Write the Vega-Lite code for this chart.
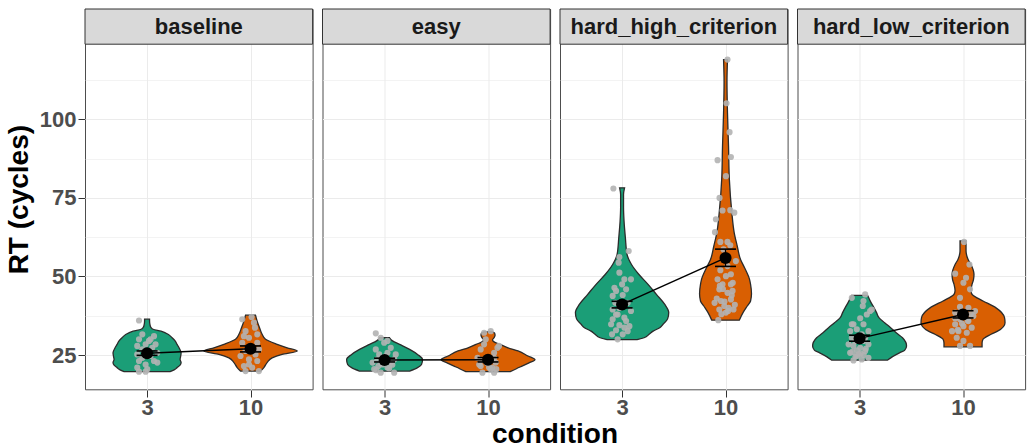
{
"$schema": "https://vega.github.io/schema/vega-lite/v6.json",
"background": "white",
"padding": {"left": 5, "top": 8, "right": 1, "bottom": 0},
"bounds": "flush",
"data": {"values": [
{"kind":"summary","group":"baseline","condition":"3","pos":1,"mean":25.6,"lo":24.9,"hi":26.3},
{"kind":"summary","group":"baseline","condition":"10","pos":2,"mean":27.0,"lo":26.0,"hi":27.9},
{"kind":"summary","group":"easy","condition":"3","pos":1,"mean":23.4,"lo":22.8,"hi":24.0},
{"kind":"summary","group":"easy","condition":"10","pos":2,"mean":23.5,"lo":22.8,"hi":24.2},
{"kind":"summary","group":"hard_high_criterion","condition":"3","pos":1,"mean":41.1,"lo":40.0,"hi":42.1},
{"kind":"summary","group":"hard_high_criterion","condition":"10","pos":2,"mean":55.9,"lo":53.2,"hi":58.7},
{"kind":"summary","group":"hard_low_criterion","condition":"3","pos":1,"mean":30.3,"lo":29.4,"hi":31.3},
{"kind":"summary","group":"hard_low_criterion","condition":"10","pos":2,"mean":37.9,"lo":36.8,"hi":39.1},

{"kind":"violin","group":"baseline","condition":"3","rt":36.4,"left":0.976,"right":1.024},
{"kind":"violin","group":"baseline","condition":"3","rt":35.8,"left":0.976,"right":1.024},
{"kind":"violin","group":"baseline","condition":"3","rt":34.5,"left":0.971,"right":1.029},
{"kind":"violin","group":"baseline","condition":"3","rt":33.7,"left":0.961,"right":1.039},
{"kind":"violin","group":"baseline","condition":"3","rt":33.2,"left":0.942,"right":1.058},
{"kind":"violin","group":"baseline","condition":"3","rt":32.6,"left":0.865,"right":1.135},
{"kind":"violin","group":"baseline","condition":"3","rt":31.6,"left":0.797,"right":1.203},
{"kind":"violin","group":"baseline","condition":"3","rt":30.5,"left":0.758,"right":1.242},
{"kind":"violin","group":"baseline","condition":"3","rt":29.5,"left":0.729,"right":1.271},
{"kind":"violin","group":"baseline","condition":"3","rt":28.4,"left":0.710,"right":1.290},
{"kind":"violin","group":"baseline","condition":"3","rt":27.3,"left":0.691,"right":1.309},
{"kind":"violin","group":"baseline","condition":"3","rt":25.7,"left":0.671,"right":1.329},
{"kind":"violin","group":"baseline","condition":"3","rt":24.5,"left":0.676,"right":1.324},
{"kind":"violin","group":"baseline","condition":"3","rt":23.6,"left":0.681,"right":1.319},
{"kind":"violin","group":"baseline","condition":"3","rt":22.6,"left":0.671,"right":1.329},
{"kind":"violin","group":"baseline","condition":"3","rt":21.8,"left":0.681,"right":1.319},
{"kind":"violin","group":"baseline","condition":"3","rt":21.0,"left":0.710,"right":1.290},
{"kind":"violin","group":"baseline","condition":"3","rt":20.3,"left":0.739,"right":1.261},
{"kind":"violin","group":"baseline","condition":"3","rt":19.7,"left":0.778,"right":1.222},

{"kind":"violin","group":"baseline","condition":"10","rt":37.7,"left":1.952,"right":2.048},
{"kind":"violin","group":"baseline","condition":"10","rt":35.8,"left":1.936,"right":2.064},
{"kind":"violin","group":"baseline","condition":"10","rt":33.7,"left":1.913,"right":2.087},
{"kind":"violin","group":"baseline","condition":"10","rt":31.6,"left":1.888,"right":2.112},
{"kind":"violin","group":"baseline","condition":"10","rt":30.0,"left":1.855,"right":2.145},
{"kind":"violin","group":"baseline","condition":"10","rt":28.4,"left":1.743,"right":2.257},
{"kind":"violin","group":"baseline","condition":"10","rt":27.3,"left":1.646,"right":2.354},
{"kind":"violin","group":"baseline","condition":"10","rt":26.3,"left":1.549,"right":2.451},
{"kind":"violin","group":"baseline","condition":"10","rt":25.2,"left":1.695,"right":2.305},
{"kind":"violin","group":"baseline","condition":"10","rt":24.1,"left":1.791,"right":2.209},
{"kind":"violin","group":"baseline","condition":"10","rt":22.6,"left":1.840,"right":2.160},
{"kind":"violin","group":"baseline","condition":"10","rt":21.0,"left":1.871,"right":2.129},
{"kind":"violin","group":"baseline","condition":"10","rt":19.9,"left":1.903,"right":2.097},

{"kind":"violin","group":"easy","condition":"3","rt":30.5,"left":0.952,"right":1.048},
{"kind":"violin","group":"easy","condition":"3","rt":29.5,"left":0.923,"right":1.077},
{"kind":"violin","group":"easy","condition":"3","rt":28.4,"left":0.855,"right":1.145},
{"kind":"violin","group":"easy","condition":"3","rt":26.8,"left":0.758,"right":1.242},
{"kind":"violin","group":"easy","condition":"3","rt":25.2,"left":0.681,"right":1.319},
{"kind":"violin","group":"easy","condition":"3","rt":23.6,"left":0.633,"right":1.367},
{"kind":"violin","group":"easy","condition":"3","rt":22.0,"left":0.643,"right":1.357},
{"kind":"violin","group":"easy","condition":"3","rt":21.0,"left":0.681,"right":1.319},
{"kind":"violin","group":"easy","condition":"3","rt":19.9,"left":0.758,"right":1.242},

{"kind":"violin","group":"easy","condition":"10","rt":32.4,"left":1.961,"right":2.039},
{"kind":"violin","group":"easy","condition":"10","rt":32.0,"left":1.937,"right":2.063},
{"kind":"violin","group":"easy","condition":"10","rt":31.3,"left":1.932,"right":2.068},
{"kind":"violin","group":"easy","condition":"10","rt":30.5,"left":1.942,"right":2.058},
{"kind":"violin","group":"easy","condition":"10","rt":29.8,"left":1.957,"right":2.043},
{"kind":"violin","group":"easy","condition":"10","rt":29.2,"left":1.942,"right":2.058},
{"kind":"violin","group":"easy","condition":"10","rt":28.4,"left":1.884,"right":2.116},
{"kind":"violin","group":"easy","condition":"10","rt":27.3,"left":1.807,"right":2.193},
{"kind":"violin","group":"easy","condition":"10","rt":26.3,"left":1.710,"right":2.290},
{"kind":"violin","group":"easy","condition":"10","rt":24.7,"left":1.614,"right":2.386},
{"kind":"violin","group":"easy","condition":"10","rt":23.5,"left":1.546,"right":2.454},
{"kind":"violin","group":"easy","condition":"10","rt":22.5,"left":1.604,"right":2.396},
{"kind":"violin","group":"easy","condition":"10","rt":21.2,"left":1.691,"right":2.309},
{"kind":"violin","group":"easy","condition":"10","rt":19.7,"left":1.787,"right":2.213},

{"kind":"violin","group":"hard_high_criterion","condition":"3","rt":78.2,"left":0.976,"right":1.024},
{"kind":"violin","group":"hard_high_criterion","condition":"3","rt":76.1,"left":0.986,"right":1.014},
{"kind":"violin","group":"hard_high_criterion","condition":"3","rt":72.0,"left":0.986,"right":1.014},
{"kind":"violin","group":"hard_high_criterion","condition":"3","rt":67.6,"left":0.981,"right":1.019},
{"kind":"violin","group":"hard_high_criterion","condition":"3","rt":62.3,"left":0.968,"right":1.032},
{"kind":"violin","group":"hard_high_criterion","condition":"3","rt":57.0,"left":0.952,"right":1.048},
{"kind":"violin","group":"hard_high_criterion","condition":"3","rt":53.8,"left":0.909,"right":1.091},
{"kind":"violin","group":"hard_high_criterion","condition":"3","rt":50.7,"left":0.839,"right":1.161},
{"kind":"violin","group":"hard_high_criterion","condition":"3","rt":47.5,"left":0.749,"right":1.251},
{"kind":"violin","group":"hard_high_criterion","condition":"3","rt":44.3,"left":0.668,"right":1.332},
{"kind":"violin","group":"hard_high_criterion","condition":"3","rt":41.1,"left":0.587,"right":1.413},
{"kind":"violin","group":"hard_high_criterion","condition":"3","rt":38.5,"left":0.549,"right":1.451},
{"kind":"violin","group":"hard_high_criterion","condition":"3","rt":36.5,"left":0.560,"right":1.440},
{"kind":"violin","group":"hard_high_criterion","condition":"3","rt":34.8,"left":0.604,"right":1.396},
{"kind":"violin","group":"hard_high_criterion","condition":"3","rt":33.7,"left":0.636,"right":1.364},
{"kind":"violin","group":"hard_high_criterion","condition":"3","rt":32.6,"left":0.700,"right":1.300},
{"kind":"violin","group":"hard_high_criterion","condition":"3","rt":31.6,"left":0.739,"right":1.261},
{"kind":"violin","group":"hard_high_criterion","condition":"3","rt":30.5,"left":0.787,"right":1.213},
{"kind":"violin","group":"hard_high_criterion","condition":"3","rt":29.9,"left":0.855,"right":1.145},

{"kind":"violin","group":"hard_high_criterion","condition":"10","rt":119.0,"left":1.981,"right":2.019},
{"kind":"violin","group":"hard_high_criterion","condition":"10","rt":112.0,"left":1.986,"right":2.014},
{"kind":"violin","group":"hard_high_criterion","condition":"10","rt":102.0,"left":1.981,"right":2.019},
{"kind":"violin","group":"hard_high_criterion","condition":"10","rt":91.5,"left":1.971,"right":2.029},
{"kind":"violin","group":"hard_high_criterion","condition":"10","rt":80.9,"left":1.963,"right":2.037},
{"kind":"violin","group":"hard_high_criterion","condition":"10","rt":70.3,"left":1.939,"right":2.061},
{"kind":"violin","group":"hard_high_criterion","condition":"10","rt":63.9,"left":1.916,"right":2.084},
{"kind":"violin","group":"hard_high_criterion","condition":"10","rt":59.7,"left":1.887,"right":2.113},
{"kind":"violin","group":"hard_high_criterion","condition":"10","rt":55.4,"left":1.855,"right":2.145},
{"kind":"violin","group":"hard_high_criterion","condition":"10","rt":52.8,"left":1.816,"right":2.184},
{"kind":"violin","group":"hard_high_criterion","condition":"10","rt":49.1,"left":1.768,"right":2.232},
{"kind":"violin","group":"hard_high_criterion","condition":"10","rt":47.5,"left":1.758,"right":2.242},
{"kind":"violin","group":"hard_high_criterion","condition":"10","rt":44.5,"left":1.749,"right":2.251},
{"kind":"violin","group":"hard_high_criterion","condition":"10","rt":42.2,"left":1.758,"right":2.242},
{"kind":"violin","group":"hard_high_criterion","condition":"10","rt":40.6,"left":1.790,"right":2.210},
{"kind":"violin","group":"hard_high_criterion","condition":"10","rt":38.5,"left":1.831,"right":2.169},
{"kind":"violin","group":"hard_high_criterion","condition":"10","rt":36.1,"left":1.867,"right":2.133},

{"kind":"violin","group":"hard_low_criterion","condition":"3","rt":44.0,"left":0.923,"right":1.077},
{"kind":"violin","group":"hard_low_criterion","condition":"3","rt":42.0,"left":0.894,"right":1.106},
{"kind":"violin","group":"hard_low_criterion","condition":"3","rt":40.0,"left":0.860,"right":1.140},
{"kind":"violin","group":"hard_low_criterion","condition":"3","rt":38.5,"left":0.836,"right":1.164},
{"kind":"violin","group":"hard_low_criterion","condition":"3","rt":36.9,"left":0.813,"right":1.187},
{"kind":"violin","group":"hard_low_criterion","condition":"3","rt":35.3,"left":0.758,"right":1.242},
{"kind":"violin","group":"hard_low_criterion","condition":"3","rt":33.7,"left":0.700,"right":1.300},
{"kind":"violin","group":"hard_low_criterion","condition":"3","rt":32.0,"left":0.643,"right":1.357},
{"kind":"violin","group":"hard_low_criterion","condition":"3","rt":30.5,"left":0.585,"right":1.415},
{"kind":"violin","group":"hard_low_criterion","condition":"3","rt":27.9,"left":0.546,"right":1.454},
{"kind":"violin","group":"hard_low_criterion","condition":"3","rt":26.5,"left":0.565,"right":1.435},
{"kind":"violin","group":"hard_low_criterion","condition":"3","rt":25.7,"left":0.614,"right":1.386},
{"kind":"violin","group":"hard_low_criterion","condition":"3","rt":24.5,"left":0.681,"right":1.319},
{"kind":"violin","group":"hard_low_criterion","condition":"3","rt":23.4,"left":0.729,"right":1.271},

{"kind":"violin","group":"hard_low_criterion","condition":"10","rt":61.3,"left":1.971,"right":2.029},
{"kind":"violin","group":"hard_low_criterion","condition":"10","rt":58.1,"left":1.971,"right":2.029},
{"kind":"violin","group":"hard_low_criterion","condition":"10","rt":55.5,"left":1.952,"right":2.048},
{"kind":"violin","group":"hard_low_criterion","condition":"10","rt":53.8,"left":1.923,"right":2.077},
{"kind":"violin","group":"hard_low_criterion","condition":"10","rt":50.7,"left":1.894,"right":2.106},
{"kind":"violin","group":"hard_low_criterion","condition":"10","rt":49.0,"left":1.899,"right":2.101},
{"kind":"violin","group":"hard_low_criterion","condition":"10","rt":47.5,"left":1.913,"right":2.087},
{"kind":"violin","group":"hard_low_criterion","condition":"10","rt":45.5,"left":1.923,"right":2.077},
{"kind":"violin","group":"hard_low_criterion","condition":"10","rt":44.3,"left":1.913,"right":2.087},
{"kind":"violin","group":"hard_low_criterion","condition":"10","rt":43.2,"left":1.865,"right":2.135},
{"kind":"violin","group":"hard_low_criterion","condition":"10","rt":42.2,"left":1.807,"right":2.193},
{"kind":"violin","group":"hard_low_criterion","condition":"10","rt":40.0,"left":1.681,"right":2.319},
{"kind":"violin","group":"hard_low_criterion","condition":"10","rt":36.9,"left":1.599,"right":2.401},
{"kind":"violin","group":"hard_low_criterion","condition":"10","rt":35.3,"left":1.594,"right":2.406},
{"kind":"violin","group":"hard_low_criterion","condition":"10","rt":32.6,"left":1.666,"right":2.334},
{"kind":"violin","group":"hard_low_criterion","condition":"10","rt":31.6,"left":1.729,"right":2.271},
{"kind":"violin","group":"hard_low_criterion","condition":"10","rt":30.0,"left":1.807,"right":2.193},
{"kind":"violin","group":"hard_low_criterion","condition":"10","rt":28.8,"left":1.816,"right":2.184},
{"kind":"violin","group":"hard_low_criterion","condition":"10","rt":27.6,"left":1.816,"right":2.184},

{"kind":"point","group":"baseline","condition":"3","x":0.922,"rt":36.0},
{"kind":"point","group":"baseline","condition":"3","x":0.954,"rt":31.6},
{"kind":"point","group":"baseline","condition":"3","x":1.067,"rt":31.0},
{"kind":"point","group":"baseline","condition":"3","x":0.922,"rt":30.0},
{"kind":"point","group":"baseline","condition":"3","x":1.018,"rt":29.5},
{"kind":"point","group":"baseline","condition":"3","x":1.082,"rt":28.4},
{"kind":"point","group":"baseline","condition":"3","x":0.905,"rt":27.9},
{"kind":"point","group":"baseline","condition":"3","x":0.986,"rt":28.4},
{"kind":"point","group":"baseline","condition":"3","x":1.099,"rt":25.7},
{"kind":"point","group":"baseline","condition":"3","x":0.905,"rt":25.2},
{"kind":"point","group":"baseline","condition":"3","x":1.034,"rt":24.7},
{"kind":"point","group":"baseline","condition":"3","x":0.922,"rt":23.1},
{"kind":"point","group":"baseline","condition":"3","x":1.067,"rt":23.1},
{"kind":"point","group":"baseline","condition":"3","x":0.986,"rt":22.0},
{"kind":"point","group":"baseline","condition":"3","x":0.905,"rt":21.0},
{"kind":"point","group":"baseline","condition":"3","x":1.002,"rt":20.5},
{"kind":"point","group":"baseline","condition":"3","x":0.922,"rt":19.7},
{"kind":"point","group":"baseline","condition":"3","x":0.986,"rt":19.7},
{"kind":"point","group":"baseline","condition":"3","x":0.954,"rt":26.8},
{"kind":"point","group":"baseline","condition":"3","x":1.050,"rt":27.3},
{"kind":"point","group":"baseline","condition":"3","x":1.099,"rt":22.6},
{"kind":"point","group":"baseline","condition":"3","x":0.954,"rt":24.1},
{"kind":"point","group":"baseline","condition":"3","x":1.034,"rt":30.0},

{"kind":"point","group":"baseline","condition":"10","x":1.920,"rt":36.4},
{"kind":"point","group":"baseline","condition":"10","x":2.010,"rt":37.1},
{"kind":"point","group":"baseline","condition":"10","x":2.043,"rt":33.7},
{"kind":"point","group":"baseline","condition":"10","x":1.952,"rt":32.6},
{"kind":"point","group":"baseline","condition":"10","x":2.065,"rt":31.6},
{"kind":"point","group":"baseline","condition":"10","x":1.985,"rt":30.5},
{"kind":"point","group":"baseline","condition":"10","x":1.920,"rt":28.9},
{"kind":"point","group":"baseline","condition":"10","x":2.065,"rt":28.9},
{"kind":"point","group":"baseline","condition":"10","x":1.952,"rt":26.3},
{"kind":"point","group":"baseline","condition":"10","x":2.048,"rt":25.2},
{"kind":"point","group":"baseline","condition":"10","x":1.903,"rt":24.7},
{"kind":"point","group":"baseline","condition":"10","x":1.985,"rt":23.6},
{"kind":"point","group":"baseline","condition":"10","x":2.065,"rt":23.1},
{"kind":"point","group":"baseline","condition":"10","x":1.936,"rt":21.5},
{"kind":"point","group":"baseline","condition":"10","x":2.016,"rt":21.0},
{"kind":"point","group":"baseline","condition":"10","x":2.081,"rt":19.9},
{"kind":"point","group":"baseline","condition":"10","x":1.952,"rt":19.9},
{"kind":"point","group":"baseline","condition":"10","x":2.016,"rt":27.3},
{"kind":"point","group":"baseline","condition":"10","x":2.081,"rt":26.8},
{"kind":"point","group":"baseline","condition":"10","x":1.936,"rt":31.0},
{"kind":"point","group":"baseline","condition":"10","x":2.033,"rt":35.3},
{"kind":"point","group":"baseline","condition":"10","x":1.985,"rt":22.0},

{"kind":"point","group":"easy","condition":"3","x":0.915,"rt":31.9},
{"kind":"point","group":"easy","condition":"3","x":0.963,"rt":30.5},
{"kind":"point","group":"easy","condition":"3","x":0.996,"rt":28.9},
{"kind":"point","group":"easy","condition":"3","x":1.060,"rt":27.3},
{"kind":"point","group":"easy","condition":"3","x":0.915,"rt":26.8},
{"kind":"point","group":"easy","condition":"3","x":1.028,"rt":25.7},
{"kind":"point","group":"easy","condition":"3","x":1.093,"rt":23.6},
{"kind":"point","group":"easy","condition":"3","x":0.931,"rt":23.6},
{"kind":"point","group":"easy","condition":"3","x":0.900,"rt":20.5},
{"kind":"point","group":"easy","condition":"3","x":1.028,"rt":21.0},
{"kind":"point","group":"easy","condition":"3","x":0.963,"rt":19.4},
{"kind":"point","group":"easy","condition":"3","x":1.093,"rt":19.4},
{"kind":"point","group":"easy","condition":"3","x":0.884,"rt":22.6},
{"kind":"point","group":"easy","condition":"3","x":1.060,"rt":22.6},
{"kind":"point","group":"easy","condition":"3","x":0.980,"rt":22.0},
{"kind":"point","group":"easy","condition":"3","x":1.012,"rt":24.7},
{"kind":"point","group":"easy","condition":"3","x":0.948,"rt":25.2},
{"kind":"point","group":"easy","condition":"3","x":1.108,"rt":25.2},
{"kind":"point","group":"easy","condition":"3","x":1.028,"rt":29.5},
{"kind":"point","group":"easy","condition":"3","x":0.940,"rt":21.5},
{"kind":"point","group":"easy","condition":"3","x":1.045,"rt":20.8},
{"kind":"point","group":"easy","condition":"3","x":0.970,"rt":22.3},
{"kind":"point","group":"easy","condition":"3","x":1.075,"rt":21.9},
{"kind":"point","group":"easy","condition":"3","x":0.920,"rt":20.2},

{"kind":"point","group":"easy","condition":"10","x":1.962,"rt":32.1},
{"kind":"point","group":"easy","condition":"10","x":2.026,"rt":32.6},
{"kind":"point","group":"easy","condition":"10","x":1.978,"rt":30.0},
{"kind":"point","group":"easy","condition":"10","x":2.091,"rt":27.3},
{"kind":"point","group":"easy","condition":"10","x":1.929,"rt":26.8},
{"kind":"point","group":"easy","condition":"10","x":2.059,"rt":25.7},
{"kind":"point","group":"easy","condition":"10","x":1.898,"rt":24.1},
{"kind":"point","group":"easy","condition":"10","x":2.074,"rt":22.6},
{"kind":"point","group":"easy","condition":"10","x":1.929,"rt":21.5},
{"kind":"point","group":"easy","condition":"10","x":2.010,"rt":21.0},
{"kind":"point","group":"easy","condition":"10","x":1.946,"rt":19.4},
{"kind":"point","group":"easy","condition":"10","x":2.059,"rt":19.4},
{"kind":"point","group":"easy","condition":"10","x":1.978,"rt":23.1},
{"kind":"point","group":"easy","condition":"10","x":2.059,"rt":24.1},
{"kind":"point","group":"easy","condition":"10","x":2.106,"rt":27.9},
{"kind":"point","group":"easy","condition":"10","x":1.962,"rt":28.4},
{"kind":"point","group":"easy","condition":"10","x":2.026,"rt":20.5},
{"kind":"point","group":"easy","condition":"10","x":1.915,"rt":22.0},
{"kind":"point","group":"easy","condition":"10","x":2.040,"rt":21.0},
{"kind":"point","group":"easy","condition":"10","x":1.990,"rt":22.5},
{"kind":"point","group":"easy","condition":"10","x":2.080,"rt":20.5},
{"kind":"point","group":"easy","condition":"10","x":1.940,"rt":23.5},

{"kind":"point","group":"hard_high_criterion","condition":"3","x":0.916,"rt":78.0},
{"kind":"point","group":"hard_high_criterion","condition":"3","x":1.064,"rt":58.1},
{"kind":"point","group":"hard_high_criterion","condition":"3","x":0.974,"rt":56.2},
{"kind":"point","group":"hard_high_criterion","condition":"3","x":0.967,"rt":54.4},
{"kind":"point","group":"hard_high_criterion","condition":"3","x":0.974,"rt":51.2},
{"kind":"point","group":"hard_high_criterion","condition":"3","x":1.022,"rt":49.1},
{"kind":"point","group":"hard_high_criterion","condition":"3","x":1.086,"rt":49.1},
{"kind":"point","group":"hard_high_criterion","condition":"3","x":1.000,"rt":47.5},
{"kind":"point","group":"hard_high_criterion","condition":"3","x":0.942,"rt":45.4},
{"kind":"point","group":"hard_high_criterion","condition":"3","x":1.039,"rt":45.9},
{"kind":"point","group":"hard_high_criterion","condition":"3","x":0.909,"rt":43.8},
{"kind":"point","group":"hard_high_criterion","condition":"3","x":1.006,"rt":44.1},
{"kind":"point","group":"hard_high_criterion","condition":"3","x":0.935,"rt":41.6},
{"kind":"point","group":"hard_high_criterion","condition":"3","x":1.054,"rt":41.6},
{"kind":"point","group":"hard_high_criterion","condition":"3","x":1.086,"rt":39.0},
{"kind":"point","group":"hard_high_criterion","condition":"3","x":0.909,"rt":39.5},
{"kind":"point","group":"hard_high_criterion","condition":"3","x":0.957,"rt":37.9},
{"kind":"point","group":"hard_high_criterion","condition":"3","x":1.022,"rt":36.9},
{"kind":"point","group":"hard_high_criterion","condition":"3","x":0.909,"rt":36.4},
{"kind":"point","group":"hard_high_criterion","condition":"3","x":1.071,"rt":34.2},
{"kind":"point","group":"hard_high_criterion","condition":"3","x":0.894,"rt":34.8},
{"kind":"point","group":"hard_high_criterion","condition":"3","x":0.974,"rt":34.5},
{"kind":"point","group":"hard_high_criterion","condition":"3","x":1.022,"rt":33.7},
{"kind":"point","group":"hard_high_criterion","condition":"3","x":0.942,"rt":32.9},
{"kind":"point","group":"hard_high_criterion","condition":"3","x":1.006,"rt":31.6},
{"kind":"point","group":"hard_high_criterion","condition":"3","x":0.957,"rt":30.0},
{"kind":"point","group":"hard_high_criterion","condition":"3","x":0.974,"rt":40.0},
{"kind":"point","group":"hard_high_criterion","condition":"3","x":0.926,"rt":46.4},
{"kind":"point","group":"hard_high_criterion","condition":"3","x":1.039,"rt":35.8},
{"kind":"point","group":"hard_high_criterion","condition":"3","x":0.942,"rt":37.9},
{"kind":"point","group":"hard_high_criterion","condition":"3","x":0.990,"rt":41.6},
{"kind":"point","group":"hard_high_criterion","condition":"3","x":0.903,"rt":31.6},
{"kind":"point","group":"hard_high_criterion","condition":"3","x":1.054,"rt":32.6},

{"kind":"point","group":"hard_high_criterion","condition":"10","x":2.019,"rt":119.0},
{"kind":"point","group":"hard_high_criterion","condition":"10","x":2.010,"rt":105.1},
{"kind":"point","group":"hard_high_criterion","condition":"10","x":2.039,"rt":95.9},
{"kind":"point","group":"hard_high_criterion","condition":"10","x":1.923,"rt":87.0},
{"kind":"point","group":"hard_high_criterion","condition":"10","x":2.052,"rt":88.0},
{"kind":"point","group":"hard_high_criterion","condition":"10","x":2.004,"rt":81.9},
{"kind":"point","group":"hard_high_criterion","condition":"10","x":1.942,"rt":75.0},
{"kind":"point","group":"hard_high_criterion","condition":"10","x":1.907,"rt":68.2},
{"kind":"point","group":"hard_high_criterion","condition":"10","x":1.898,"rt":64.1},
{"kind":"point","group":"hard_high_criterion","condition":"10","x":1.971,"rt":71.0},
{"kind":"point","group":"hard_high_criterion","condition":"10","x":2.046,"rt":71.1},
{"kind":"point","group":"hard_high_criterion","condition":"10","x":2.085,"rt":70.3},
{"kind":"point","group":"hard_high_criterion","condition":"10","x":1.950,"rt":61.0},
{"kind":"point","group":"hard_high_criterion","condition":"10","x":2.019,"rt":61.0},
{"kind":"point","group":"hard_high_criterion","condition":"10","x":2.046,"rt":59.9},
{"kind":"point","group":"hard_high_criterion","condition":"10","x":2.100,"rt":54.9},
{"kind":"point","group":"hard_high_criterion","condition":"10","x":1.950,"rt":52.0},
{"kind":"point","group":"hard_high_criterion","condition":"10","x":2.004,"rt":50.1},
{"kind":"point","group":"hard_high_criterion","condition":"10","x":2.052,"rt":50.7},
{"kind":"point","group":"hard_high_criterion","condition":"10","x":1.923,"rt":49.1},
{"kind":"point","group":"hard_high_criterion","condition":"10","x":1.971,"rt":47.5},
{"kind":"point","group":"hard_high_criterion","condition":"10","x":2.052,"rt":47.5},
{"kind":"point","group":"hard_high_criterion","condition":"10","x":1.940,"rt":45.9},
{"kind":"point","group":"hard_high_criterion","condition":"10","x":2.019,"rt":44.8},
{"kind":"point","group":"hard_high_criterion","condition":"10","x":2.068,"rt":45.4},
{"kind":"point","group":"hard_high_criterion","condition":"10","x":1.894,"rt":41.6},
{"kind":"point","group":"hard_high_criterion","condition":"10","x":1.956,"rt":42.2},
{"kind":"point","group":"hard_high_criterion","condition":"10","x":2.052,"rt":42.7},
{"kind":"point","group":"hard_high_criterion","condition":"10","x":1.988,"rt":40.6},
{"kind":"point","group":"hard_high_criterion","condition":"10","x":2.077,"rt":39.5},
{"kind":"point","group":"hard_high_criterion","condition":"10","x":2.004,"rt":38.5},
{"kind":"point","group":"hard_high_criterion","condition":"10","x":1.940,"rt":39.5},
{"kind":"point","group":"hard_high_criterion","condition":"10","x":1.930,"rt":36.1},
{"kind":"point","group":"hard_high_criterion","condition":"10","x":2.019,"rt":53.3},
{"kind":"point","group":"hard_high_criterion","condition":"10","x":1.981,"rt":58.6},
{"kind":"point","group":"hard_high_criterion","condition":"10","x":1.960,"rt":38.0},
{"kind":"point","group":"hard_high_criterion","condition":"10","x":2.030,"rt":40.0},
{"kind":"point","group":"hard_high_criterion","condition":"10","x":1.915,"rt":43.0},
{"kind":"point","group":"hard_high_criterion","condition":"10","x":2.060,"rt":44.0},
{"kind":"point","group":"hard_high_criterion","condition":"10","x":1.975,"rt":46.0},
{"kind":"point","group":"hard_high_criterion","condition":"10","x":2.090,"rt":41.0},
{"kind":"point","group":"hard_high_criterion","condition":"10","x":1.945,"rt":47.0},
{"kind":"point","group":"hard_high_criterion","condition":"10","x":2.025,"rt":39.0},
{"kind":"point","group":"hard_high_criterion","condition":"10","x":1.990,"rt":42.0},
{"kind":"point","group":"hard_high_criterion","condition":"10","x":2.070,"rt":48.0},

{"kind":"point","group":"hard_low_criterion","condition":"3","x":0.925,"rt":43.2},
{"kind":"point","group":"hard_low_criterion","condition":"3","x":1.054,"rt":44.3},
{"kind":"point","group":"hard_low_criterion","condition":"3","x":1.038,"rt":42.2},
{"kind":"point","group":"hard_low_criterion","condition":"3","x":1.031,"rt":40.6},
{"kind":"point","group":"hard_low_criterion","condition":"3","x":1.102,"rt":39.0},
{"kind":"point","group":"hard_low_criterion","condition":"3","x":1.070,"rt":37.9},
{"kind":"point","group":"hard_low_criterion","condition":"3","x":1.006,"rt":36.7},
{"kind":"point","group":"hard_low_criterion","condition":"3","x":0.941,"rt":34.8},
{"kind":"point","group":"hard_low_criterion","condition":"3","x":1.038,"rt":34.8},
{"kind":"point","group":"hard_low_criterion","condition":"3","x":0.973,"rt":33.2},
{"kind":"point","group":"hard_low_criterion","condition":"3","x":0.909,"rt":32.6},
{"kind":"point","group":"hard_low_criterion","condition":"3","x":1.086,"rt":32.6},
{"kind":"point","group":"hard_low_criterion","condition":"3","x":1.021,"rt":31.6},
{"kind":"point","group":"hard_low_criterion","condition":"3","x":0.925,"rt":30.5},
{"kind":"point","group":"hard_low_criterion","condition":"3","x":1.086,"rt":28.4},
{"kind":"point","group":"hard_low_criterion","condition":"3","x":0.941,"rt":27.9},
{"kind":"point","group":"hard_low_criterion","condition":"3","x":1.006,"rt":27.3},
{"kind":"point","group":"hard_low_criterion","condition":"3","x":0.909,"rt":25.7},
{"kind":"point","group":"hard_low_criterion","condition":"3","x":1.054,"rt":26.3},
{"kind":"point","group":"hard_low_criterion","condition":"3","x":0.973,"rt":24.7},
{"kind":"point","group":"hard_low_criterion","condition":"3","x":1.086,"rt":24.1},
{"kind":"point","group":"hard_low_criterion","condition":"3","x":0.941,"rt":23.3},
{"kind":"point","group":"hard_low_criterion","condition":"3","x":1.021,"rt":23.6},
{"kind":"point","group":"hard_low_criterion","condition":"3","x":0.957,"rt":29.5},
{"kind":"point","group":"hard_low_criterion","condition":"3","x":1.038,"rt":29.5},
{"kind":"point","group":"hard_low_criterion","condition":"3","x":0.989,"rt":31.0},
{"kind":"point","group":"hard_low_criterion","condition":"3","x":0.894,"rt":28.4},
{"kind":"point","group":"hard_low_criterion","condition":"3","x":1.054,"rt":30.5},
{"kind":"point","group":"hard_low_criterion","condition":"3","x":0.925,"rt":34.8},
{"kind":"point","group":"hard_low_criterion","condition":"3","x":0.989,"rt":25.2},
{"kind":"point","group":"hard_low_criterion","condition":"3","x":1.118,"rt":39.5},
{"kind":"point","group":"hard_low_criterion","condition":"3","x":0.960,"rt":24.5},
{"kind":"point","group":"hard_low_criterion","condition":"3","x":1.010,"rt":25.5},
{"kind":"point","group":"hard_low_criterion","condition":"3","x":0.930,"rt":26.0},
{"kind":"point","group":"hard_low_criterion","condition":"3","x":1.060,"rt":27.0},
{"kind":"point","group":"hard_low_criterion","condition":"3","x":0.975,"rt":26.5},
{"kind":"point","group":"hard_low_criterion","condition":"3","x":1.040,"rt":25.0},

{"kind":"point","group":"hard_low_criterion","condition":"10","x":2.010,"rt":61.0},
{"kind":"point","group":"hard_low_criterion","condition":"10","x":2.062,"rt":53.8},
{"kind":"point","group":"hard_low_criterion","condition":"10","x":1.924,"rt":50.9},
{"kind":"point","group":"hard_low_criterion","condition":"10","x":2.029,"rt":49.6},
{"kind":"point","group":"hard_low_criterion","condition":"10","x":2.004,"rt":48.0},
{"kind":"point","group":"hard_low_criterion","condition":"10","x":2.068,"rt":45.9},
{"kind":"point","group":"hard_low_criterion","condition":"10","x":1.971,"rt":40.3},
{"kind":"point","group":"hard_low_criterion","condition":"10","x":2.052,"rt":40.0},
{"kind":"point","group":"hard_low_criterion","condition":"10","x":1.924,"rt":38.5},
{"kind":"point","group":"hard_low_criterion","condition":"10","x":2.100,"rt":37.4},
{"kind":"point","group":"hard_low_criterion","condition":"10","x":1.971,"rt":36.4},
{"kind":"point","group":"hard_low_criterion","condition":"10","x":2.052,"rt":35.8},
{"kind":"point","group":"hard_low_criterion","condition":"10","x":1.924,"rt":34.8},
{"kind":"point","group":"hard_low_criterion","condition":"10","x":2.004,"rt":34.2},
{"kind":"point","group":"hard_low_criterion","condition":"10","x":2.084,"rt":33.7},
{"kind":"point","group":"hard_low_criterion","condition":"10","x":1.956,"rt":32.6},
{"kind":"point","group":"hard_low_criterion","condition":"10","x":2.036,"rt":32.1},
{"kind":"point","group":"hard_low_criterion","condition":"10","x":1.939,"rt":30.5},
{"kind":"point","group":"hard_low_criterion","condition":"10","x":2.004,"rt":29.5},
{"kind":"point","group":"hard_low_criterion","condition":"10","x":1.971,"rt":27.9},
{"kind":"point","group":"hard_low_criterion","condition":"10","x":2.068,"rt":27.9},
{"kind":"point","group":"hard_low_criterion","condition":"10","x":1.924,"rt":36.7},
{"kind":"point","group":"hard_low_criterion","condition":"10","x":2.116,"rt":39.0},
{"kind":"point","group":"hard_low_criterion","condition":"10","x":1.894,"rt":32.6},
{"kind":"point","group":"hard_low_criterion","condition":"10","x":2.019,"rt":37.9},
{"kind":"point","group":"hard_low_criterion","condition":"10","x":1.971,"rt":43.2},
{"kind":"point","group":"hard_low_criterion","condition":"10","x":1.990,"rt":35.0},
{"kind":"point","group":"hard_low_criterion","condition":"10","x":2.045,"rt":36.0},
{"kind":"point","group":"hard_low_criterion","condition":"10","x":1.950,"rt":33.0},
{"kind":"point","group":"hard_low_criterion","condition":"10","x":2.075,"rt":38.0}
]},
"facet": {"column": {"field": "group", "type": "nominal", "title": "condition",
  "sort": ["baseline", "easy", "hard_high_criterion", "hard_low_criterion"],
  "header": {"labels": false, "titleOrient": "bottom", "titleFont": "Liberation Sans", "titleFontSize": 28,
             "titleFontWeight": "bold", "titleColor": "#000000", "titlePadding": -7}}},
"spacing": 9.5,
"spec": {
  "width": 227.6,
  "height": 380.3,
  "layer": [
    {"transform": [{"filter": "datum.kind === 'summary' && datum.condition === '3'"}],
     "mark": {"type": "rect", "fill": "#D9D9D9", "stroke": "#333333", "strokeWidth": 1},
     "encoding": {
       "x": {"datum": 0.4, "type": "quantitative"},
       "x2": {"datum": 2.6},
       "y": {"datum": 123.9, "type": "quantitative"},
       "y2": {"datum": 135.1}}},
    {"transform": [{"filter": "datum.kind === 'summary' && datum.condition === '3'"}],
     "mark": {"type": "text", "font": "Liberation Sans", "fontSize": 22, "fontWeight": "bold", "color": "#1A1A1A", "baseline": "middle", "align": "center"},
     "encoding": {
       "x": {"datum": 1.5, "type": "quantitative"},
       "y": {"datum": 129.3, "type": "quantitative"},
       "text": {"field": "group", "type": "nominal"}}},
    {"transform": [{"filter": "datum.kind === 'violin'"}],
     "mark": {"type": "area", "orient": "horizontal", "interpolate": "monotone", "stroke": "#2B2B2B", "strokeWidth": 1.3, "fillOpacity": 1},
     "encoding": {
       "y": {"field": "rt", "type": "quantitative", "title": "RT (cycles)",
             "scale": {"domain": [14.1, 135.1], "nice": false, "zero": false},
             "axis": {"values": [25, 37.5, 50, 62.5, 75, 87.5, 100, 112.5],
                      "labelExpr": "datum.value % 25 === 0 ? datum.label : ''",
                      "tickOpacity": {"condition": {"test": "datum.value % 25 !== 0", "value": 0}, "value": 1},
                      "gridWidth": {"condition": {"test": "datum.value % 25 !== 0", "value": 0.6}, "value": 1.1},
                      "labelOverlap": false}},
       "x": {"field": "left", "type": "quantitative", "title": null,
             "scale": {"domain": [0.4, 2.6], "nice": false, "zero": false},
             "axis": {"values": [1, 2], "labelExpr": "datum.value === 1 ? '3' : '10'", "labelFlush": false, "labelOverlap": false, "labelPadding": 0}},
       "x2": {"field": "right"},
       "fill": {"field": "condition", "type": "nominal", "scale": {"domain": ["3", "10"], "range": ["#1B9E77", "#D95F02"]}, "legend": null}}},
    {"transform": [{"filter": "datum.kind === 'point'"}],
     "mark": {"type": "circle", "size": 38, "color": "#B3B3B3", "opacity": 0.9},
     "encoding": {
       "x": {"field": "x", "type": "quantitative"},
       "y": {"field": "rt", "type": "quantitative"}}},
    {"transform": [{"filter": "datum.kind === 'summary'"}],
     "mark": {"type": "line", "color": "#000000", "strokeWidth": 1.5},
     "encoding": {
       "x": {"field": "pos", "type": "quantitative"},
       "y": {"field": "mean", "type": "quantitative"}}},
    {"transform": [{"filter": "datum.kind === 'summary'"}],
     "mark": {"type": "rule", "color": "#000000", "strokeWidth": 1.3},
     "encoding": {
       "x": {"field": "pos", "type": "quantitative"},
       "y": {"field": "lo", "type": "quantitative"},
       "y2": {"field": "hi"}}},
    {"transform": [{"filter": "datum.kind === 'summary'"}],
     "mark": {"type": "tick", "orient": "horizontal", "size": 21, "thickness": 1.6, "color": "#000000", "opacity": 1},
     "encoding": {
       "x": {"field": "pos", "type": "quantitative"},
       "y": {"field": "lo", "type": "quantitative"}}},
    {"transform": [{"filter": "datum.kind === 'summary'"}],
     "mark": {"type": "tick", "orient": "horizontal", "size": 21, "thickness": 1.6, "color": "#000000", "opacity": 1},
     "encoding": {
       "x": {"field": "pos", "type": "quantitative"},
       "y": {"field": "hi", "type": "quantitative"}}},
    {"transform": [{"filter": "datum.kind === 'summary'"}],
     "mark": {"type": "circle", "size": 145, "color": "#000000", "opacity": 1},
     "encoding": {
       "x": {"field": "pos", "type": "quantitative"},
       "y": {"field": "mean", "type": "quantitative"}}}
  ]
},
"config": {
  "font": "Liberation Sans",
  "view": {"stroke": "#4D4D4D", "strokeWidth": 1},
  "axis": {"domain": false, "grid": true, "gridColor": "#EBEBEB", "tickColor": "#333333", "tickSize": 7, "tickWidth": 1,
           "labelPadding": 2, "labelFont": "Liberation Sans", "labelFontSize": 22, "labelFontWeight": "bold", "labelColor": "#4D4D4D",
           "titleFont": "Liberation Sans", "titleFontSize": 28, "titleFontWeight": "bold", "titleColor": "#000000"},
  "axisY": {"titlePadding": 6}
}
}
